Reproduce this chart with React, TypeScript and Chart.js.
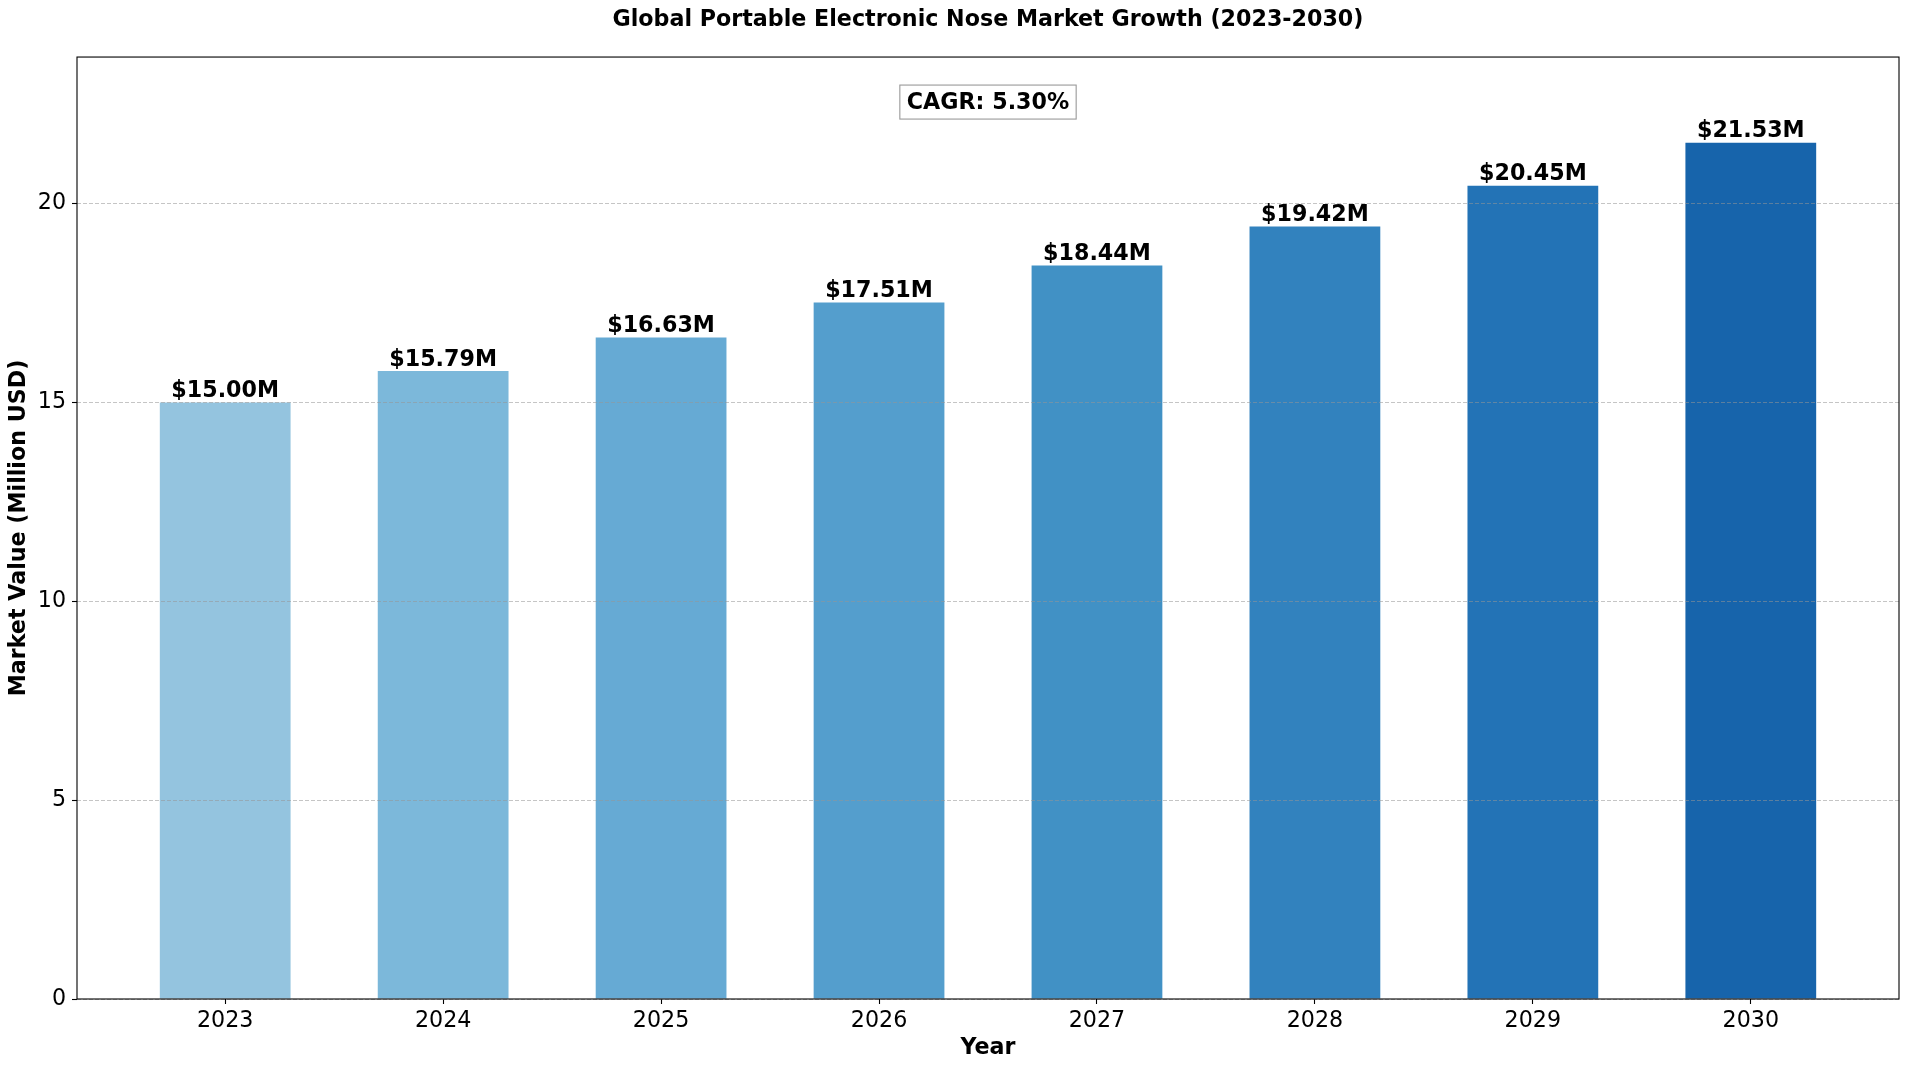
import React, { useEffect, useRef } from 'react';
import { Chart, registerables, ChartConfiguration, Plugin } from 'chart.js';
Chart.register(...registerables);

// data
const years = ['2023', '2024', '2025', '2026', '2027', '2028', '2029', '2030'];
const marketValues = [15.0, 15.79, 16.63, 17.51, 18.44, 19.42, 20.45, 21.53];
const yTickValues = [0, 5, 10, 15, 20];
const cagrLabel = 'CAGR: 5.30%';

// Blues colormap, light -> dark
const barColors = ['#94c4df', '#7cb8da', '#66aad4', '#549ecd', '#4191c5', '#3282be', '#2373b6', '#1764ab'];

const FONT = "'DejaVu Sans', sans-serif";
const FS = 22.2;

const annotationPlugin: Plugin = {
  id: 'annotations',
  afterDraw(chart) {
    const { ctx, chartArea } = chart;
    const meta = chart.getDatasetMeta(0);
    ctx.save();

    // value labels above bars
    ctx.font = `bold ${FS}px ${FONT}`;
    ctx.fillStyle = '#000';
    ctx.textAlign = 'center';
    ctx.textBaseline = 'bottom';
    meta.data.forEach((bar: any, i: number) => {
      ctx.fillText(`$${marketValues[i].toFixed(2)}M`, bar.x, bar.y);
    });

    // CAGR box
    const cx = (chartArea.left + chartArea.right) / 2;
    const cy = chartArea.top + (chartArea.bottom - chartArea.top) * 0.0478;
    const w = ctx.measureText(cagrLabel).width + 14;
    const h = 34;
    ctx.fillStyle = '#fff';
    ctx.fillRect(cx - w / 2, cy - h / 2, w, h);
    ctx.strokeStyle = '#999';
    ctx.lineWidth = 1.1;
    ctx.strokeRect(cx - w / 2, cy - h / 2, w, h);
    ctx.fillStyle = '#000';
    ctx.textBaseline = 'middle';
    ctx.fillText(cagrLabel, cx, cy + 1);

    // axes frame
    ctx.strokeStyle = '#000';
    ctx.lineWidth = 1.1;
    ctx.strokeRect(chartArea.left, chartArea.top, chartArea.right - chartArea.left, chartArea.bottom - chartArea.top);
    ctx.restore();
  },
};

const App: React.FC = () => {
  const canvasRef = useRef<HTMLCanvasElement>(null);

  useEffect(() => {
    if (!canvasRef.current) return;
    const ctx = canvasRef.current.getContext('2d');
    if (!ctx) return;

    const yMax = Math.max(...marketValues) * 1.1;
    const span = marketValues.length - 1 + 0.6;
    const xMin = -0.3 - span * 0.05;
    const xMax = marketValues.length - 1 + 0.3 + span * 0.05;

    const config: ChartConfiguration = {
      type: 'bar',
      data: {
        datasets: [{
          label: 'Market Value',
          data: marketValues.map((v, i) => ({ x: i, y: v })),
          backgroundColor: barColors,
          borderWidth: 0,
          barPercentage: 0.6,
          categoryPercentage: 1.0,
        }],
      },
      options: {
        animation: false,
        responsive: true,
        maintainAspectRatio: false,
        layout: { padding: { left: 0, right: 11, top: 0, bottom: 0 } },
        scales: {
          x: {
            type: 'linear',
            min: xMin,
            max: xMax,
            offset: false,
            afterBuildTicks: (scale: any) => {
              scale.ticks = years.map((_, i) => ({ value: i }));
            },
            afterFit: (scale: any) => { scale.height = 71; },
            grid: { display: true, offset: false, drawOnChartArea: false, drawTicks: true, tickLength: 5, tickColor: '#000', tickWidth: 1.1 },
            border: { display: false },
            ticks: {
              color: '#000',
              padding: 4,
              maxRotation: 0,
              autoSkip: false,
              font: { family: FONT, size: FS },
              callback: (value: any) => years[value] ?? '',
            },
            title: {
              display: true,
              text: 'Year',
              color: '#000',
              font: { family: FONT, size: FS, weight: 'bold' },
              padding: { top: 0, bottom: 8 },
            },
          },
          y: {
            min: 0,
            max: yMax,
            afterBuildTicks: (scale: any) => {
              scale.ticks = yTickValues.map(v => ({ value: v }));
            },
            afterFit: (scale: any) => { scale.width = 77; },
            grid: {
              color: 'rgba(150,150,150,0.55)',
              lineWidth: 1,
              tickLength: 5,
              tickColor: '#000',
              tickWidth: 1.1,
              z: 1,
            },
            border: { display: false, dash: [4, 2] },
            ticks: {
              color: '#000',
              padding: 6,
              font: { family: FONT, size: FS },
              callback: (value: any) => String(value),
            },
            title: {
              display: true,
              text: 'Market Value (Million USD)',
              color: '#000',
              font: { family: FONT, size: FS, weight: 'bold' },
              padding: { top: 6, bottom: 0 },
            },
          },
        },
        plugins: {
          legend: { display: false },
          tooltip: { enabled: false },
          title: {
            display: true,
            text: 'Global Portable Electronic Nose Market Growth (2023-2030)',
            color: '#000',
            fullSize: false,
            font: { family: FONT, size: FS, weight: 'bold' },
            padding: { top: 7.4, bottom: 23 },
          },
        },
      },
      plugins: [annotationPlugin],
    };

    const chart = new Chart(ctx, config);
    return () => chart.destroy();
  }, []);

  return (
    <div style={{ position: 'absolute', left: 0, top: 0, width: 1910, height: 1070, background: '#fff' }}>
      <canvas ref={canvasRef}></canvas>
    </div>
  );
};

export default App;
